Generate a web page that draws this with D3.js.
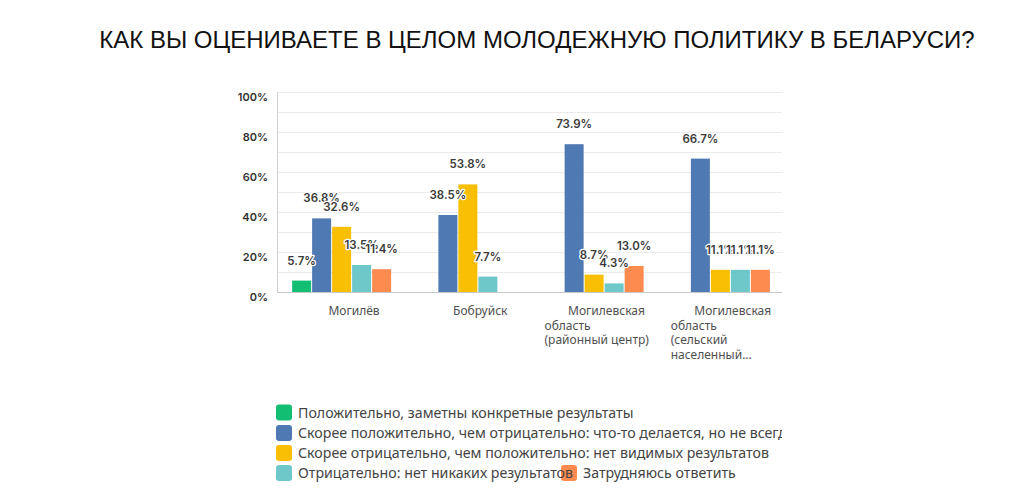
<!DOCTYPE html>
<html>
<head>
<meta charset="utf-8">
<script src="https://cdn.jsdelivr.net/npm/d3@7"></script>
<style>
  html, body { margin: 0; padding: 0; background: #fff; }
  svg { display: block; }
</style>
</head>
<body>
<svg id="chart" width="1024" height="495"></svg>
<script>
const title = "КАК ВЫ ОЦЕНИВАЕТЕ В ЦЕЛОМ МОЛОДЕЖНУЮ ПОЛИТИКУ В БЕЛАРУСИ?";
const categories = ["Могилёв", "Бобруйск", "Могилевская область (районный центр)", "Могилевская область (сельский населенный пункт)"];
const categoryLines = [
  ["Могилёв"],
  ["Бобруйск"],
  ["Могилевская", "область", "(районный центр)"],
  ["Могилевская", "область", "(сельский", "населенный..."]
];
const seriesNames = [
  "Положительно, заметны конкретные результаты",
  "Скорее положительно, чем отрицательно: что-то делается, но не всегда",
  "Скорее отрицательно, чем положительно: нет видимых результатов",
  "Отрицательно: нет никаких результатов",
  "Затрудняюсь ответить"
];
const seriesColors = ["#12bf72", "#4f79b3", "#f8bf05", "#6ec8c9", "#fd8b50"];
// values per series, in category order
const positive      = [5.7, 0, 0, 0];
const ratherPos     = [36.8, 38.5, 73.9, 66.7];
const ratherNeg     = [32.6, 53.8, 8.7, 11.1];
const negative      = [13.5, 7.7, 4.3, 11.1];
const hardToSay     = [11.4, 0, 13.0, 11.1];
const seriesValues = [positive, ratherPos, ratherNeg, negative, hardToSay];
const yTicks = [0, 20, 40, 60, 80, 100];
const yGrid = [10, 20, 30, 40, 50, 60, 70, 80, 90, 100];

const svg = d3.select("#chart");
const plotLeft = 277, plotRight = 782, plotTop = 92, plotBottom = 292;

svg.append("text")
  .attr("x", 537).attr("y", 48)
  .attr("text-anchor", "middle")
  .attr("font-family", "Liberation Sans, Arial, sans-serif")
  .attr("font-size", 24)
  .attr("fill", "#111")
  .text(title);

const x0 = d3.scaleBand().domain(d3.range(categories.length)).range([plotLeft, plotRight]).paddingInner(0).paddingOuter(0);
const x1 = d3.scaleBand().domain(d3.range(seriesNames.length)).range([0, 100]).paddingInner(0);
const y = d3.scaleLinear().domain([0, 100]).range([plotBottom, plotTop]);

// grid
svg.append("g").selectAll("line").data(yGrid).join("line")
  .attr("x1", plotLeft).attr("x2", plotRight)
  .attr("y1", d => y(d) + 0.5).attr("y2", d => y(d) + 0.5)
  .attr("stroke", "#ebebeb").attr("stroke-width", 1);

// axis lines
svg.append("line").attr("x1", plotLeft + 0.5).attr("x2", plotLeft + 0.5).attr("y1", plotTop).attr("y2", plotBottom)
  .attr("stroke", "#d0d0d0");
svg.append("line").attr("x1", plotLeft).attr("x2", plotRight).attr("y1", plotBottom + 0.5).attr("y2", plotBottom + 0.5)
  .attr("stroke", "#c8c8c8");

// y tick labels
svg.append("g").selectAll("text").data(yTicks).join("text")
  .attr("x", 268).attr("y", d => y(d) + 9)
  .attr("text-anchor", "end")
  .attr("font-family", "Inter, sans-serif")
  .attr("font-weight", 600)
  .attr("font-size", 11)
  .attr("fill", "#333")
  .text(d => d + "%");

const groupOffset = (x0.bandwidth() - 100) / 2 + 2;

// bars
const barData = [];
seriesValues.forEach((vals, s) => vals.forEach((v, c) => barData.push({ s, c, v })));
const bars = barData.filter(d => d.v > 0);
svg.append("g").selectAll("rect").data(bars).join("rect")
  .attr("x", d => x0(d.c) + groupOffset + x1(d.s))
  .attr("y", d => y(d.v))
  .attr("width", x1.bandwidth() - 1)
  .attr("height", d => plotBottom - y(d.v))
  .attr("fill", d => seriesColors[d.s]);

// value labels
svg.append("g").selectAll("text").data(bars).join("text")
  .attr("x", d => x0(d.c) + groupOffset + x1(d.s) + (x1.bandwidth() - 1) / 2)
  .attr("y", d => y(d.v) - 16)
  .attr("text-anchor", "middle")
  .attr("font-family", "Inter, sans-serif")
  .attr("font-weight", 600)
  .attr("font-size", 11.5)
  .attr("fill", "#3a3a3a")
  .attr("stroke", "#fff").attr("stroke-width", 2.5).attr("paint-order", "stroke")
  .attr("stroke-linejoin", "round")
  .text(d => d.v.toFixed(1) + "%");

// category labels
const catG = svg.append("g")
  .attr("font-family", "Noto Sans, sans-serif")
  .attr("font-size", 12)
  .attr("fill", "#505050");
categoryLines.forEach((lines, c) => {
  const bs = x0(c);
  lines.forEach((ln, i) => {
    const t = catG.append("text").attr("y", 315 + i * 14.5).text(ln);
    if (i === 0) t.attr("x", bs + 77).attr("text-anchor", "middle");
    else t.attr("x", bs + 15).attr("text-anchor", "start");
  });
});

// legend
const defs = svg.append("defs");
defs.append("clipPath").attr("id", "legclip").append("rect")
  .attr("x", 270).attr("y", 395).attr("width", 512).attr("height", 95);
const leg = svg.append("g").attr("clip-path", "url(#legclip)")
  .attr("font-family", "Noto Sans, sans-serif").attr("font-size", 14.2).attr("fill", "#444");
const legPos = [
  { x: 276, y: 412.5 }, { x: 276, y: 433 }, { x: 276, y: 453 }, { x: 276, y: 473 }, { x: 561, y: 473 }
];
seriesNames.forEach((name, i) => {
  const p = legPos[i];
  leg.append("rect").attr("x", p.x).attr("y", p.y - 8).attr("width", 16).attr("height", 16)
    .attr("rx", 3).attr("fill", seriesColors[i]);
});
seriesNames.forEach((name, i) => {
  const p = legPos[i];
  leg.append("text").attr("x", p.x + 22).attr("y", p.y + 5).text(name);
});
</script>
</body>
</html>
